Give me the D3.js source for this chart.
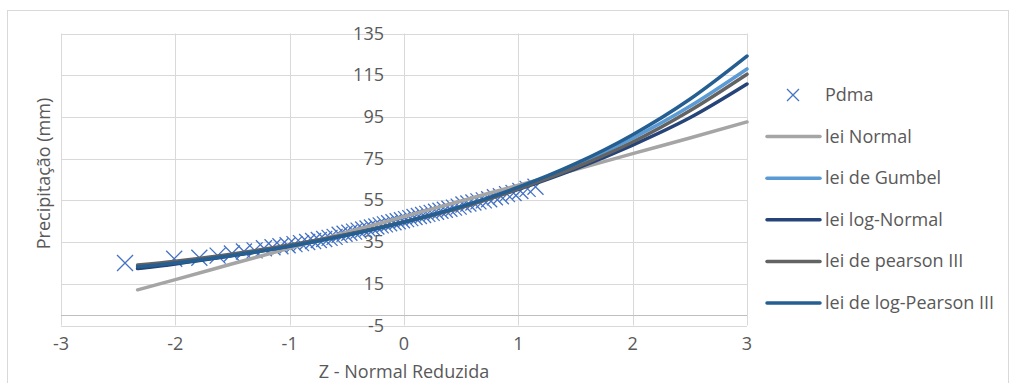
<!DOCTYPE html>
<html>
<head>
<meta charset="utf-8">
<script src="https://cdn.jsdelivr.net/npm/d3@7"></script>
<style>
  body { margin: 0; background: #fff; }
  svg { display: block; font-family: "Open Sans", sans-serif; }
</style>
</head>
<body>
<div id="chart"></div>
<script>
// Observed points (Pdma): reduced normal variate and sorted precipitation
const obsZ = [-2.44, -2.01, -1.79, -1.63, -1.505, -1.40, -1.307, -1.225, -1.15, -1.081,
  -1.018, -0.958, -0.901, -0.847, -0.795, -0.745, -0.698, -0.651, -0.607, -0.563,
  -0.52, -0.478, -0.437, -0.397, -0.357, -0.319, -0.28, -0.242, -0.204, -0.167,
  -0.13, -0.092, -0.055, -0.018, 0.018, 0.055, 0.092, 0.13, 0.167, 0.204,
  0.242, 0.28, 0.319, 0.357, 0.397, 0.437, 0.478, 0.52, 0.563, 0.607,
  0.651, 0.698, 0.745, 0.795, 0.847, 0.901, 0.958, 1.018, 1.081, 1.15];
const obsP = [25, 27, 27.5, 28.5, 29.5, 30.5, 31, 32, 32.5, 33,
  33.5, 34, 34.5, 35, 35.5, 36, 36.5, 37, 37.5, 38.5,
  39, 39.5, 40, 40.5, 41, 41.5, 42, 42.5, 43, 43.5,
  44, 44.5, 45, 45.5, 46, 46.5, 47, 47.5, 48, 48.5,
  49, 49.5, 50, 50.5, 51, 51.5, 52, 53, 53.5, 54,
  54.5, 55, 55.5, 56.5, 57, 58, 58.5, 59.5, 60.5, 61.5];

// Fitted laws, read at these z values
const fitZ = [-2.33, -2, -1.5, -1, -0.5, 0, 0.5, 1, 1.5, 2, 2.5, 3];
const leiNormal = [12.1, 17.0, 24.6, 32.1, 39.7, 47.2, 54.7, 62.3, 69.8, 77.4, 84.9, 92.6];
const leiGumbel = [22.4, 24.8, 28.7, 33.2, 38.5, 44.7, 52.1, 61.0, 71.8, 84.8, 100.1, 118.0];
const leiLogNormal = [22.3, 24.5, 28.5, 33.1, 38.5, 44.7, 51.9, 60.3, 70.1, 81.5, 94.6, 110.8];
const leiPearson = [24.0, 25.8, 29.3, 33.6, 38.6, 44.6, 51.6, 60.5, 70.8, 83.0, 98.0, 115.5];
const leiLogPearson = [23.2, 25.0, 28.6, 33.0, 38.3, 44.5, 52.0, 61.3, 72.6, 86.5, 103.5, 124.2];

const xTicks = [-3, -2, -1, 0, 1, 2, 3];
const yTicks = [-5, 15, 35, 55, 75, 95, 115, 135];

const seriesNames = ['lei Normal', 'lei de Gumbel', 'lei log-Normal', 'lei de pearson III', 'lei de log-Pearson III'];
const seriesValues = [leiNormal, leiGumbel, leiLogNormal, leiPearson, leiLogPearson];
const seriesColors = ['#A5A5A5', '#5B9BD5', '#264478', '#636363', '#255E91'];

const W = 1010, H = 383;
const textColor = '#595959';
const gridColor = '#D9D9D9';
const fontSize = '18px';

const svg = d3.select('#chart').append('svg')
  .attr('width', W).attr('height', H);

// chart border
svg.append('rect')
  .attr('x', 7.5).attr('y', 10.5).attr('width', W - 9).attr('height', H)
  .attr('fill', '#fff').attr('stroke', gridColor);

const x = d3.scaleLinear().domain([-3, 3]).range([61, 747]);
const y = d3.scaleLinear().domain([-5, 135]).range([325.5, 33.5]);

// Grid
const gridG = svg.append('g');
gridG.selectAll('line.h').data(yTicks).join('line')
  .attr('x1', x(-3)).attr('x2', x(3))
  .attr('y1', d => Math.round(y(d)) + 0.5).attr('y2', d => Math.round(y(d)) + 0.5)
  .attr('stroke', gridColor).attr('stroke-width', 1);
gridG.selectAll('line.v').data(xTicks).join('line')
  .attr('x1', d => Math.round(x(d)) + 0.5).attr('x2', d => Math.round(x(d)) + 0.5)
  .attr('y1', y(135)).attr('y2', y(-5))
  .attr('stroke', gridColor).attr('stroke-width', 1);

// horizontal axis line at 0
svg.append('line')
  .attr('x1', x(-3)).attr('x2', x(3))
  .attr('y1', Math.round(y(0)) + 0.5).attr('y2', Math.round(y(0)) + 0.5)
  .attr('stroke', '#BFBFBF').attr('stroke-width', 1);

// Y tick labels (axis crosses at z = 0)
svg.append('g').selectAll('text').data(yTicks).join('text')
  .attr('x', x(0) - 20).attr('y', d => y(d) + 6)
  .attr('text-anchor', 'end')
  .attr('fill', textColor).style('font-size', fontSize)
  .text(d => d);

// X tick labels
svg.append('g').selectAll('text').data(xTicks).join('text')
  .attr('x', d => x(d)).attr('y', 350)
  .attr('text-anchor', 'middle')
  .attr('fill', textColor).style('font-size', fontSize)
  .text(d => d);

// Axis titles
svg.append('text')
  .attr('x', x(0)).attr('y', 378)
  .attr('text-anchor', 'middle')
  .attr('fill', textColor).style('font-size', fontSize)
  .text('Z - Normal Reduzida');

svg.append('text')
  .attr('transform', `translate(50,${(y(135) + y(-5)) / 2 - 6}) rotate(-90)`)
  .attr('text-anchor', 'middle')
  .attr('fill', textColor).style('font-size', fontSize)
  .text('Precipitação (mm)');

// X marker path
function cross(s) {
  return `M${-s},${-s}L${s},${s}M${-s},${s}L${s},${-s}`;
}

// Pdma points
svg.append('g').selectAll('path').data(obsZ).join('path')
  .attr('transform', (d, i) => `translate(${x(d)},${y(obsP[i])})`)
  .attr('d', cross(8))
  .attr('fill', 'none').attr('stroke', '#4472C4').attr('stroke-width', 1.3);

// Fitted curves
const line = d3.line()
  .x(d => x(d[0])).y(d => y(d[1]))
  .curve(d3.curveMonotoneX);

const curvesG = svg.append('g');
seriesValues.forEach((vals, k) => {
  curvesG.append('path')
    .attr('d', line(fitZ.map((z, i) => [z, vals[i]])))
    .attr('fill', 'none')
    .attr('stroke', seriesColors[k])
    .attr('stroke-width', 3.5)
    .attr('stroke-linecap', 'round');
});

// Legend
const legendG = svg.append('g');
const legendY0 = 95, legendStep = 41.6;
legendG.append('path')
  .attr('transform', `translate(793,${legendY0})`)
  .attr('d', cross(6))
  .attr('fill', 'none').attr('stroke', '#4472C4').attr('stroke-width', 1.3);
legendG.append('text')
  .attr('x', 825).attr('y', legendY0 + 6)
  .attr('fill', textColor).style('font-size', fontSize)
  .text('Pdma');
seriesNames.forEach((name, k) => {
  const ly = legendY0 + legendStep * (k + 1);
  legendG.append('line')
    .attr('x1', 767).attr('x2', 820).attr('y1', ly).attr('y2', ly)
    .attr('stroke', seriesColors[k]).attr('stroke-width', 3.5)
    .attr('stroke-linecap', 'round');
  legendG.append('text')
    .attr('x', 825).attr('y', ly + 6)
    .attr('fill', textColor).style('font-size', fontSize)
    .text(name);
});
</script>
</body>
</html>
